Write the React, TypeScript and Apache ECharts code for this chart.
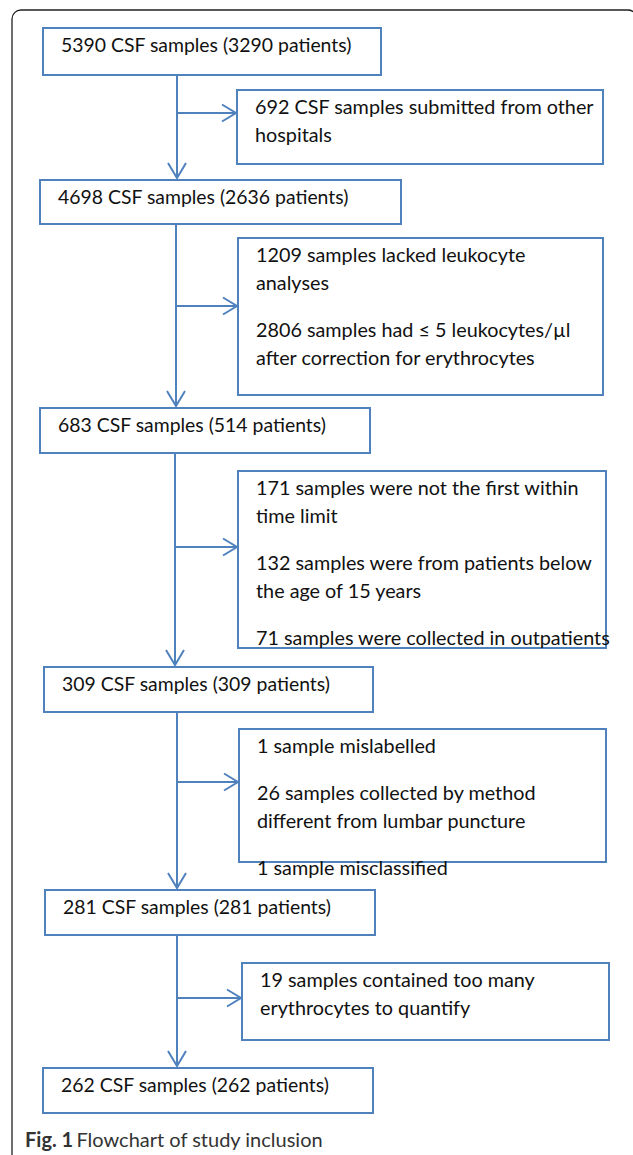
import React, { useEffect, useRef } from "react";
import * as echarts from "echarts";

// ---- Content (data) ----
const mainLabels: string[] = [
  "5390 CSF samples (3290 patients)",
  "4698 CSF samples (2636 patients)",
  "683 CSF samples (514 patients)",
  "309 CSF samples (309 patients)",
  "281 CSF samples (281 patients)",
  "262 CSF samples (262 patients)",
];

const exclusionParagraphs: string[][][] = [
  [["692 CSF samples submitted from other", "hospitals"]],
  [
    ["1209 samples lacked leukocyte", "analyses"],
    ["2806 samples had \u2264 5 leukocytes/\u00b5l", "after correction for erythrocytes"],
  ],
  [
    ["171 samples were not the first within", "time limit"],
    ["132 samples were from patients below", "the age of 15 years"],
    ["71 samples were collected in outpatients"],
  ],
  [
    ["1 sample mislabelled"],
    ["26 samples collected by method", "different from lumbar puncture"],
    ["1 sample misclassified"],
  ],
  [["19 samples contained too many", "erythrocytes to quantify"]],
];

const captionBold = "Fig. 1";
const captionText = "Flowchart of study inclusion";

// ---- Layout (positions / sizes) ----
const mainBoxLayout = [
  { x: 43, y: 28, w: 338, h: 47 },
  { x: 40, y: 180, w: 361, h: 44 },
  { x: 40, y: 408, w: 330, h: 45 },
  { x: 44, y: 667, w: 329, h: 45 },
  { x: 45, y: 890, w: 330, h: 45 },
  { x: 43, y: 1068, w: 330, h: 45 },
];
const sideBoxLayout = [
  { x: 237, y: 90, w: 366, h: 74 },
  { x: 238, y: 238, w: 365, h: 157 },
  { x: 238, y: 471, w: 368, h: 177 },
  { x: 239, y: 729, w: 367, h: 133 },
  { x: 242, y: 963, w: 367, h: 77 },
];
const stemX = [177, 176, 175, 177, 177];
const branchY = [113, 306, 547, 782, 998];

const BLUE = "#4F81BD";
const FONT = "Lato, 'Open Sans', sans-serif";
const FS_MAIN = 19.4;
const FS_SIDE = 19.8;
const LINE_H = 28;
const PARA_GAP = 47;

function buildGraphics() {
  const els: any[] = [];
  // outer frame
  els.push({
    type: "rect",
    shape: { x: 12, y: 10, width: 625, height: 1170, r: 9 },
    style: { fill: "none", stroke: "#222", lineWidth: 1.3 },
    z: 1,
  });
  // main boxes
  mainLabels.forEach((label, i) => {
    const b = mainBoxLayout[i];
    els.push({
      type: "rect",
      shape: { x: b.x, y: b.y, width: b.w, height: b.h },
      style: { fill: "#fff", stroke: BLUE, lineWidth: 2 },
      z: 2,
    });
    els.push({
      type: "text",
      x: b.x + 18,
      y: b.y + 16,
      style: {
        text: label,
        fill: "#111",
        font: `${FS_MAIN}px ${FONT}`,
        verticalAlign: "middle",
        align: "left",
      },
      z: 4,
    });
  });
  // side boxes
  exclusionParagraphs.forEach((paras, i) => {
    const b = sideBoxLayout[i];
    els.push({
      type: "rect",
      shape: { x: b.x, y: b.y, width: b.w, height: b.h },
      style: { fill: "#fff", stroke: BLUE, lineWidth: 2 },
      z: 2,
    });
    let y = b.y + 15.5;
    paras.forEach((lines, pi) => {
      if (pi > 0) y += PARA_GAP - LINE_H;
      lines.forEach((ln) => {
        els.push({
          type: "text",
          x: b.x + 18,
          y,
          style: {
            text: ln,
            fill: "#111",
            font: `${FS_SIDE}px ${FONT}`,
            verticalAlign: "middle",
            align: "left",
          },
          z: 4,
        });
        y += LINE_H;
      });
    });
  });
  // connectors
  const lineStyle = { stroke: BLUE, lineWidth: 2, fill: "none" };
  for (let i = 0; i < stemX.length; i++) {
    const x = stemX[i];
    const top = mainBoxLayout[i].y + mainBoxLayout[i].h;
    const tip = mainBoxLayout[i + 1].y - 2;
    els.push({ type: "line", shape: { x1: x, y1: top, x2: x, y2: tip }, style: lineStyle, z: 3 });
    els.push({
      type: "polyline",
      shape: { points: [[x - 9, tip - 15], [x, tip], [x + 9, tip - 15]] },
      style: lineStyle,
      z: 3,
    });
    const by = branchY[i];
    const bx = sideBoxLayout[i].x - 1;
    els.push({ type: "line", shape: { x1: x, y1: by, x2: bx, y2: by }, style: lineStyle, z: 3 });
    els.push({
      type: "polyline",
      shape: { points: [[bx - 14, by - 8.5], [bx, by], [bx - 14, by + 8.5]] },
      style: lineStyle,
      z: 3,
    });
  }
  // caption
  els.push({
    type: "text",
    x: 25,
    y: 1139,
    style: {
      text: `{b|${captionBold}} {n|${captionText}}`,
      verticalAlign: "middle",
      align: "left",
      rich: {
        b: { fontFamily: FONT, fontSize: 20, fontWeight: "bold", fill: "#333" },
        n: { fontFamily: FONT, fontSize: 20, fill: "#333" },
      },
    },
    z: 4,
  });
  return els;
}

export default function App() {
  const ref = useRef<HTMLDivElement>(null);
  useEffect(() => {
    document.body.style.margin = "0";
    if (!ref.current) return;
    const chart = echarts.init(ref.current, undefined, { renderer: "svg" });
    chart.setOption({
      animation: false,
      backgroundColor: "#fff",
      graphic: { elements: buildGraphics() },
    });
    return () => chart.dispose();
  }, []);
  return <div ref={ref} style={{ width: 633, height: 1155 }} />;
}
